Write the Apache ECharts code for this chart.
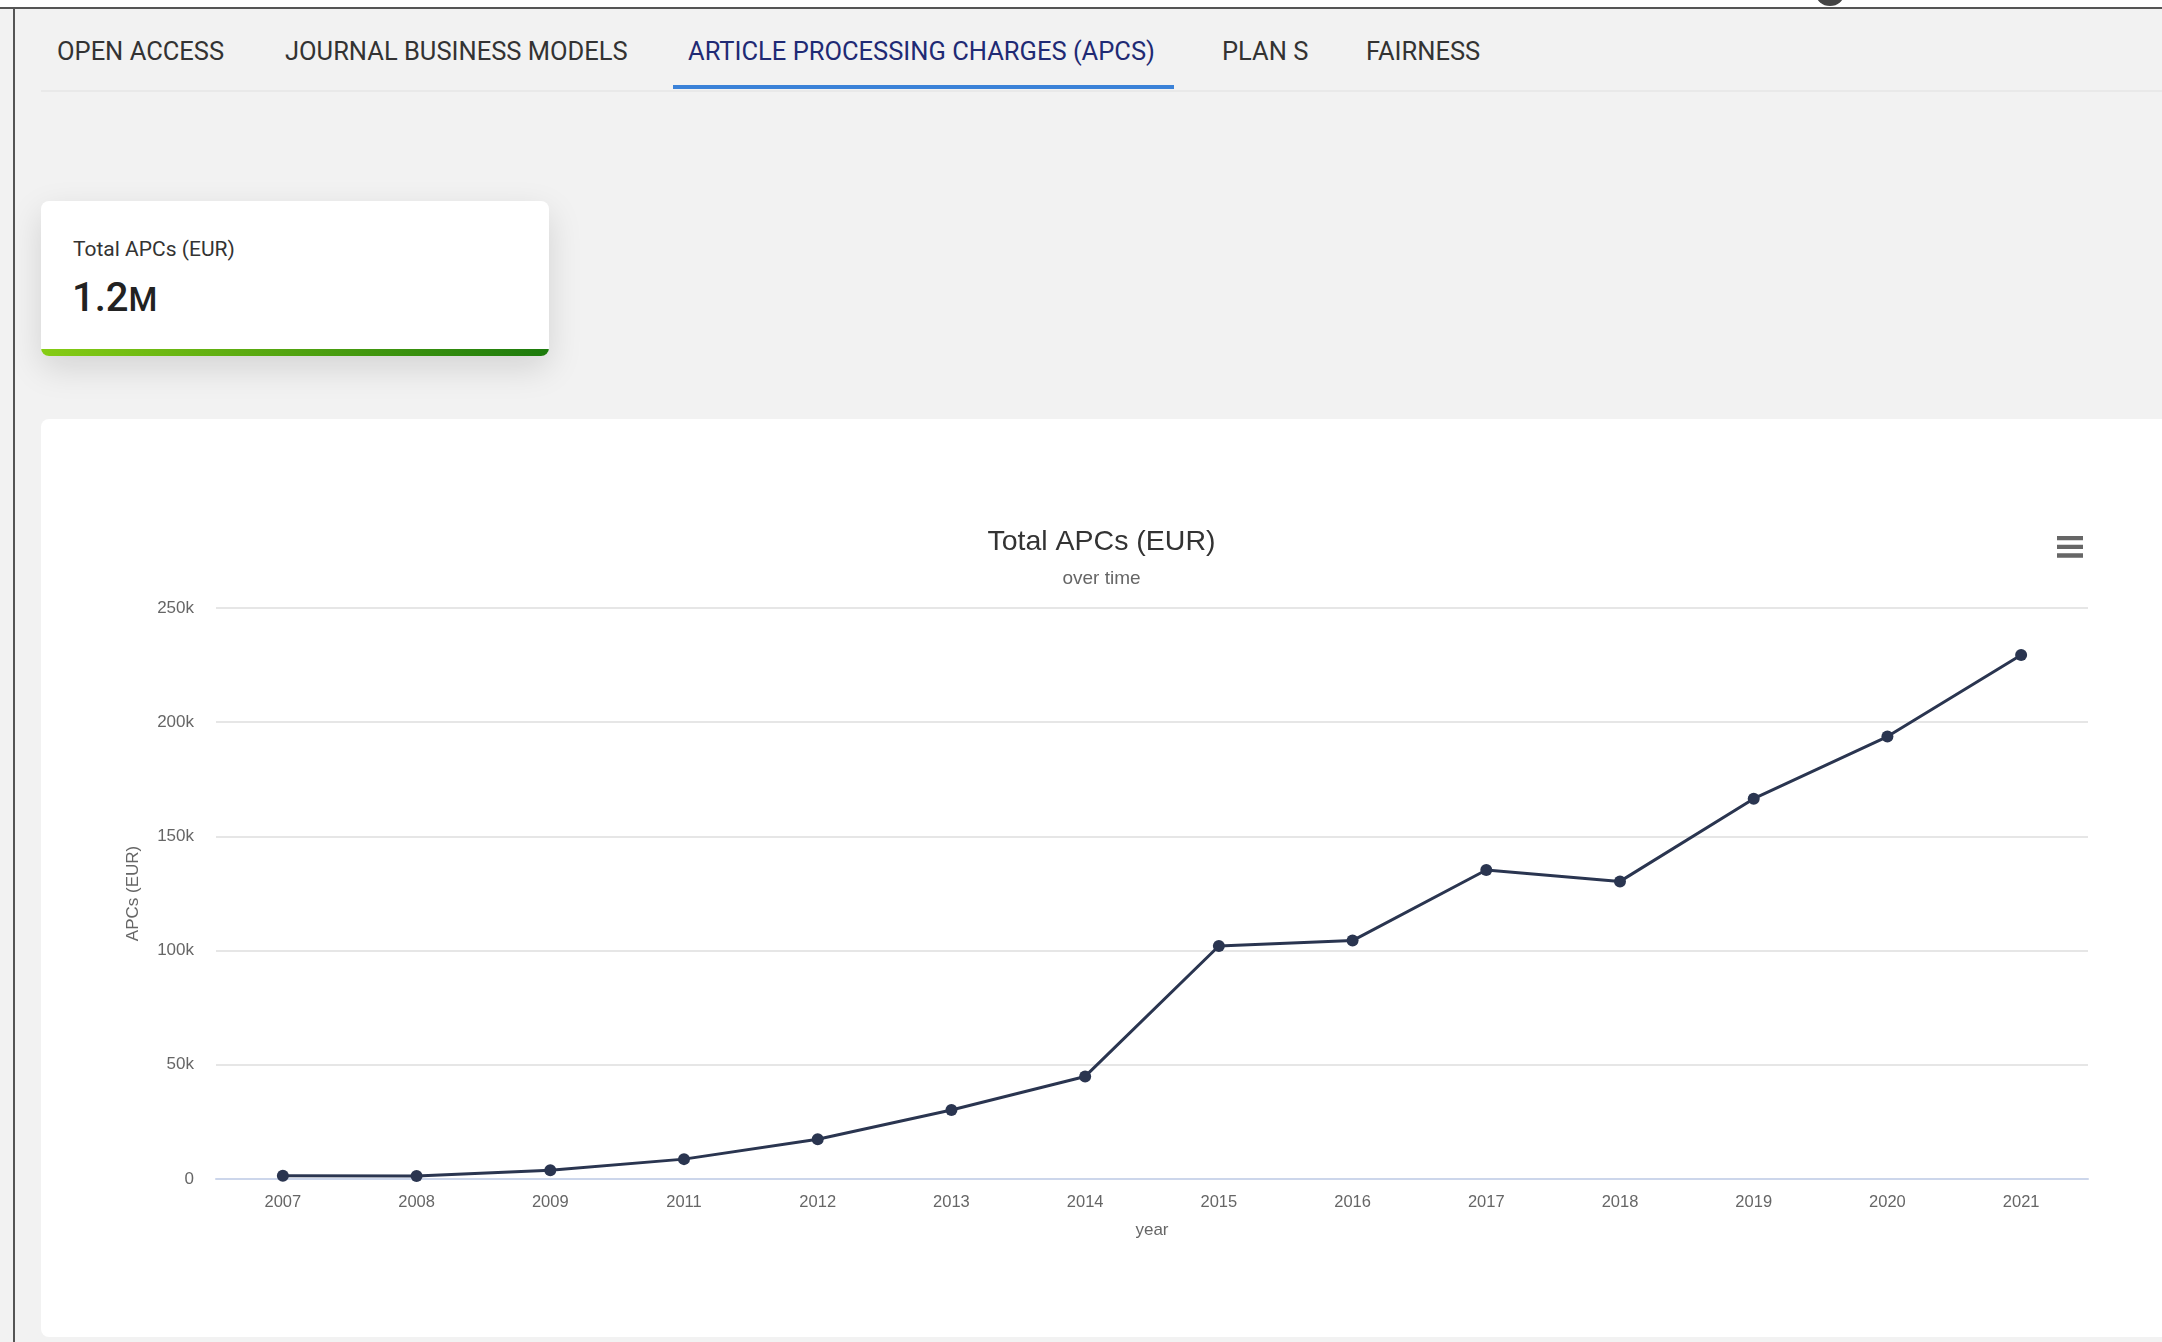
<!DOCTYPE html>
<html>
<head>
<meta charset="utf-8">
<title>Total APCs (EUR)</title>
<script src="https://cdn.jsdelivr.net/npm/echarts@6/dist/echarts.min.js"></script>
<style>
html, body {
    margin: 0;
    padding: 0;
    width: 2162px;
    height: 1342px;
    overflow: hidden;
    background: #f2f2f2;
    font-family: Roboto, "Noto Sans", sans-serif;
}
#topstrip {
    position: absolute;
    left: 0; top: 0;
    width: 2162px; height: 7px;
    background: #fff;
    border-bottom: 2px solid #555;
}
#dot {
    position: absolute;
    left: 1816px; top: -18px;
    width: 28px; height: 24px;
    border-radius: 50%;
    background: #444;
}
#leftline {
    position: absolute;
    left: 13px; top: 7px;
    width: 2px; height: 1335px;
    background: #555;
}
#tabs {
    position: absolute;
    left: 41px; top: 0;
    width: 2121px; height: 90px;
    border-bottom: 2px solid #e9e9e9;
}
.tab {
    position: absolute;
    top: 36px;
    font-size: 25.5px;
    line-height: 30px;
    color: #333;
    white-space: nowrap;
}
.tab.active { color: #1f2a74; }
#underline {
    position: absolute;
    left: 632px; top: 85px;
    width: 501px; height: 4px;
    background: #3b82d8;
}
#card {
    position: absolute;
    left: 41px; top: 201px;
    width: 508px; height: 155px;
    background: #fff;
    border-radius: 8px;
    overflow: hidden;
    box-shadow: 0 12px 34px rgba(0,0,0,0.13);
}
#card .label {
    position: absolute;
    left: 32px; top: 36px;
    font-size: 21px;
    color: #333;
}
#card .value {
    position: absolute;
    left: 31px; top: 73px;
    font-size: 40px;
    color: #222;
    font-weight: 500;
}
#card .value span { font-size: 33px; }
#card .bar {
    position: absolute;
    left: 0; bottom: 0;
    width: 100%; height: 7px;
    background: linear-gradient(to right, #86cc14, #1c7a0c);
}
#panel {
    position: absolute;
    left: 41px; top: 419px;
    width: 2121px; height: 918px;
    background: #fff;
    border-radius: 8px 0 0 8px;
}
#box {
    width: 2121px;
    height: 918px;
}
</style>
</head>
<body>
<div id="topstrip"></div>
<div id="dot"></div>
<div id="leftline"></div>
<div id="tabs">
    <div class="tab" style="left:16px">OPEN ACCESS</div>
    <div class="tab" style="left:244px">JOURNAL BUSINESS MODELS</div>
    <div class="tab active" style="left:647px">ARTICLE PROCESSING CHARGES (APCS)</div>
    <div class="tab" style="left:1181px">PLAN S</div>
    <div class="tab" style="left:1325px">FAIRNESS</div>
    <div id="underline"></div>
</div>
<div id="card">
    <div class="label">Total APCs (EUR)</div>
    <div class="value">1.2<span>M</span></div>
    <div class="bar"></div>
</div>
<div id="panel"><div id="box"></div></div>

<script>
// data
var years = ['2007', '2008', '2009', '2011', '2012', '2013', '2014',
             '2015', '2016', '2017', '2018', '2019', '2020', '2021'];
var apcs = [1450, 1300, 3800, 8700, 17400, 30200, 44900,
            102000, 104400, 135300, 130300, 166500, 193700, 229400];

var textFont = '"Liberation Sans", Arial, sans-serif';

var myChart = echarts.init(document.getElementById('box'));
var option = {
    animation: false,
    title: [
        {
            text: 'Total APCs (EUR)',
            left: 'center',
            top: 104,
            textStyle: { color: '#333', fontSize: 28.5, fontWeight: 'normal', fontFamily: textFont }
        },
        {
            text: 'over time',
            left: 'center',
            top: 145,
            textStyle: { color: '#666', fontSize: 19, fontWeight: 'normal', fontFamily: textFont }
        }
    ],
    toolbox: {
        right: 64,
        top: 102,
        itemSize: 26,
        feature: {
            myMenu: {
                show: true,
                title: '',
                icon: 'path://M0,0H24V4H0Z M0,8H24V12H0Z M0,16H24V20H0Z',
                onclick: function () {}
            }
        },
        iconStyle: { color: '#666', borderWidth: 0 }
    },
    grid: {
        left: 175,
        right: 74,
        top: 189,
        bottom: 158
    },
    xAxis: {
        type: 'category',
        data: years,
        name: 'year',
        nameLocation: 'middle',
        nameGap: 43,
        nameTextStyle: { color: '#666', fontSize: 17, fontFamily: textFont },
        axisLine: { lineStyle: { color: '#ccd6eb', width: 2 } },
        axisTick: { show: false },
        axisLabel: { color: '#666', fontSize: 16.5, margin: 15, fontFamily: textFont }
    },
    yAxis: {
        type: 'value',
        min: 0,
        max: 250000,
        interval: 50000,
        name: 'APCs (EUR)',
        nameLocation: 'middle',
        nameRotate: 90,
        nameGap: 74,
        nameTextStyle: { color: '#666', fontSize: 17, fontFamily: textFont },
        axisLine: { show: false },
        axisTick: { show: false },
        axisLabel: {
            color: '#666',
            fontSize: 17,
            margin: 22,
            fontFamily: textFont,
            formatter: function (v) { return v === 0 ? '0' : (v / 1000) + 'k'; }
        },
        splitLine: { lineStyle: { color: '#e6e6e6', width: 2 } }
    },
    series: [
        {
            type: 'line',
            data: apcs,
            symbol: 'circle',
            symbolSize: 12,
            lineStyle: { color: '#2a3550', width: 3 },
            itemStyle: { color: '#2a3550' }
        }
    ]
};
option && myChart.setOption(option);
</script>
</body>
</html>
